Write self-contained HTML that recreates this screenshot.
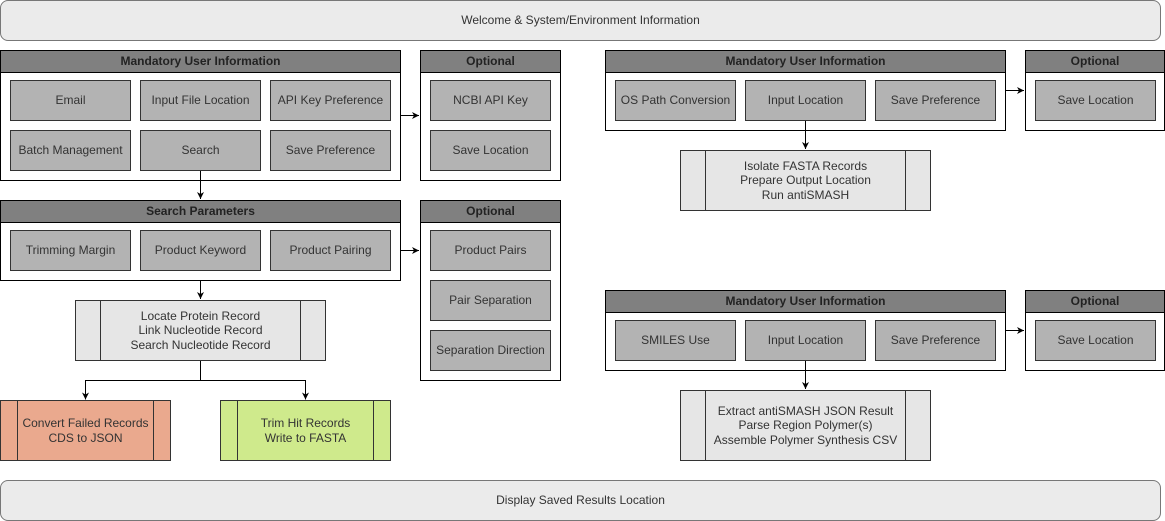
<!DOCTYPE html>
<html><head><meta charset="utf-8"><style>
body{margin:0;width:1165px;height:521px;background:#fff;position:relative;font-family:"Liberation Sans",Arial,sans-serif;font-size:12px;color:#333;overflow:hidden}
.a{position:absolute;box-sizing:border-box;display:flex;align-items:center;justify-content:center;text-align:center;line-height:14.5px}
.bar{background:#ebebeb;border:1px solid #777;border-radius:8px}
.c{border:1px solid #000;background:#fff}
.h{background:#808080;border:1px solid #000;font-weight:bold;color:#222}
.b{background:#b3b3b3;border:1px solid #333}
.p{border:1px solid #333}
svg{position:absolute;left:0;top:0}
</style></head><body>
<div class="a bar" style="left:0;top:0;width:1161px;height:41px">Welcome &amp; System/Environment Information</div>
<div class="a bar" style="left:0;top:480;top:480px;width:1161px;height:41px">Display Saved Results Location</div>

<div class="a c" style="left:0;top:50px;width:401px;height:131px"></div>
<div class="a h" style="left:0;top:50px;width:401px;height:23px">Mandatory User Information</div>
<div class="a b" style="left:10px;top:80px;width:121px;height:41px">Email</div>
<div class="a b" style="left:140px;top:80px;width:121px;height:41px">Input File Location</div>
<div class="a b" style="left:270px;top:80px;width:121px;height:41px">API Key Preference</div>
<div class="a b" style="left:10px;top:130px;width:121px;height:41px">Batch Management</div>
<div class="a b" style="left:140px;top:130px;width:121px;height:41px">Search</div>
<div class="a b" style="left:270px;top:130px;width:121px;height:41px">Save Preference</div>

<div class="a c" style="left:420px;top:50px;width:141px;height:131px"></div>
<div class="a h" style="left:420px;top:50px;width:141px;height:23px">Optional</div>
<div class="a b" style="left:430px;top:80px;width:121px;height:41px">NCBI API Key</div>
<div class="a b" style="left:430px;top:130px;width:121px;height:41px">Save Location</div>

<div class="a c" style="left:0;top:200px;width:401px;height:81px"></div>
<div class="a h" style="left:0;top:200px;width:401px;height:23px">Search Parameters</div>
<div class="a b" style="left:10px;top:230px;width:121px;height:41px">Trimming Margin</div>
<div class="a b" style="left:140px;top:230px;width:121px;height:41px">Product Keyword</div>
<div class="a b" style="left:270px;top:230px;width:121px;height:41px">Product Pairing</div>

<div class="a c" style="left:420px;top:200px;width:141px;height:181px"></div>
<div class="a h" style="left:420px;top:200px;width:141px;height:23px">Optional</div>
<div class="a b" style="left:430px;top:230px;width:121px;height:41px">Product Pairs</div>
<div class="a b" style="left:430px;top:280px;width:121px;height:41px">Pair Separation</div>
<div class="a b" style="left:430px;top:330px;width:121px;height:41px">Separation Direction</div>

<div class="a p" style="left:75px;top:300px;width:251px;height:61px;background:#e6e6e6">Locate Protein Record<br>Link Nucleotide Record<br>Search Nucleotide Record</div>
<div class="a p" style="left:0;top:400px;width:171px;height:61px;background:#eaa98e">Convert Failed Records<br>CDS to JSON</div>
<div class="a p" style="left:220px;top:400px;width:171px;height:61px;background:#cfea8c">Trim Hit Records<br>Write to FASTA</div>

<div class="a c" style="left:605px;top:50px;width:401px;height:81px"></div>
<div class="a h" style="left:605px;top:50px;width:401px;height:23px">Mandatory User Information</div>
<div class="a b" style="left:615px;top:80px;width:121px;height:41px">OS Path Conversion</div>
<div class="a b" style="left:745px;top:80px;width:121px;height:41px">Input Location</div>
<div class="a b" style="left:875px;top:80px;width:121px;height:41px">Save Preference</div>
<div class="a c" style="left:1025px;top:50px;width:140px;height:81px"></div>
<div class="a h" style="left:1025px;top:50px;width:140px;height:23px">Optional</div>
<div class="a b" style="left:1035px;top:80px;width:121px;height:41px">Save Location</div>
<div class="a p" style="left:680px;top:150px;width:251px;height:61px;background:#e6e6e6">Isolate FASTA Records<br>Prepare Output Location<br>Run antiSMASH</div>

<div class="a c" style="left:605px;top:290px;width:401px;height:81px"></div>
<div class="a h" style="left:605px;top:290px;width:401px;height:23px">Mandatory User Information</div>
<div class="a b" style="left:615px;top:320px;width:121px;height:41px">SMILES Use</div>
<div class="a b" style="left:745px;top:320px;width:121px;height:41px">Input Location</div>
<div class="a b" style="left:875px;top:320px;width:121px;height:41px">Save Preference</div>
<div class="a c" style="left:1025px;top:290px;width:140px;height:81px"></div>
<div class="a h" style="left:1025px;top:290px;width:140px;height:23px">Optional</div>
<div class="a b" style="left:1035px;top:320px;width:121px;height:41px">Save Location</div>
<div class="a p" style="left:680px;top:390px;width:251px;height:71px;background:#e6e6e6">Extract antiSMASH JSON Result<br>Parse Region Polymer(s)<br>Assemble Polymer Synthesis CSV</div>

<svg width="1165" height="521" stroke="#000" stroke-width="1" fill="none">
<defs><marker id="m" markerWidth="8" markerHeight="8" refX="7" refY="4" orient="auto" markerUnits="userSpaceOnUse"><path d="M0,0.5 L7,4 L0,7.5 L2,4z" fill="#000" stroke="none"/></marker></defs>
<g stroke="#333">
<path d="M100.5 300v60M300.5 300v60M17.5 400v60M153.5 400v60M237.5 400v60M373.5 400v60M705.5 150v60M905.5 150v60M705.5 390v70M905.5 390v70"/>
</g>
<path d="M401 115.5h18" marker-end="url(#m)"/>
<path d="M401 250.5h18" marker-end="url(#m)"/>
<path d="M200.5 171v28" marker-end="url(#m)"/>
<path d="M200.5 281v18" marker-end="url(#m)"/>
<path d="M200.5 361v19.5H85.5v19" marker-end="url(#m)"/>
<path d="M200.5 380.5h105v19" marker-end="url(#m)"/>
<path d="M1006 90.5h18" marker-end="url(#m)"/>
<path d="M805.5 121v28" marker-end="url(#m)"/>
<path d="M1006 330.5h18" marker-end="url(#m)"/>
<path d="M805.5 361v28" marker-end="url(#m)"/>
</svg>
</body></html>
